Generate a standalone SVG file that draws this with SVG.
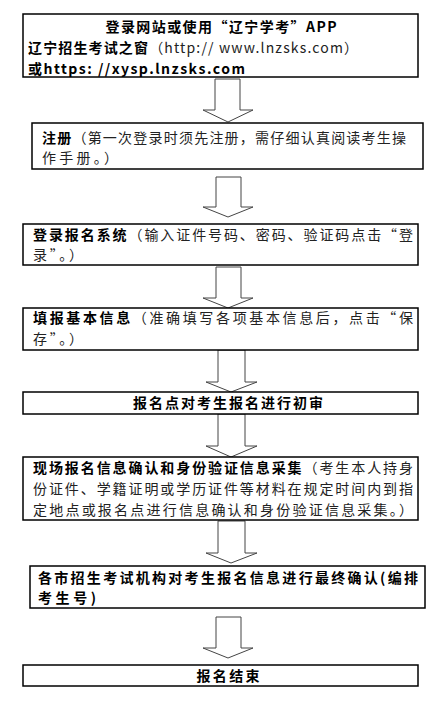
<svg xmlns="http://www.w3.org/2000/svg" width="444" height="712" viewBox="0 0 444 712">
<style>
.box{fill:#fff;stroke:#000;stroke-width:1.5}
.arr{fill:#fff;stroke:#444;stroke-width:1}
text{font-family:"Noto Sans CJK SC","Noto Sans",sans-serif;font-size:14px;fill:#000}
.b{font-weight:bold}
.n{fill:#222}
</style>
<rect width="444" height="712" fill="#fff"/>
<g id="connectors">
<polygon class="arr" points="215,79 240,79 240,110 253,110 228,122 203,110 215,110"/>
<polygon class="arr" points="216,177 241,177 241,207 253,207 228,217 203,207 216,207"/>
<polygon class="arr" points="216,267 241,267 241,298 253,298 228,308 203,298 216,298"/>
<polygon class="arr" points="218,350 245,350 245,382 257,382 231,392 206,382 218,382"/>
<polygon class="arr" points="218,414 245,414 245,446 257,446 231,457 206,446 218,446"/>
<polygon class="arr" points="218,521 245,521 245,553 257,553 231,563 206,553 218,553"/>
<polygon class="arr" points="216,617 241,617 241,648 253,648 228,658 203,648 216,648"/>
</g>
<g id="n1">
<rect class="box" x="23" y="14" width="395" height="63"/>
<text class="b" x="221" y="32" text-anchor="middle" textLength="231" lengthAdjust="spacing">登录网站或使用“辽宁学考”APP</text>
<text x="28" y="53" textLength="330" lengthAdjust="spacing"><tspan class="b">辽宁招生考试之窗</tspan><tspan class="n">（http:// www.lnzsks.com）</tspan></text>
<text class="b" x="28" y="74" textLength="217" lengthAdjust="spacing">或https: //xysp.lnzsks.com</text>
</g>
<g id="n2">
<rect class="box" x="32" y="123" width="391" height="46"/>
<text x="42" y="143" textLength="364" lengthAdjust="spacing"><tspan class="b">注册</tspan><tspan class="n">（第一次登录时须先注册，需仔细认真阅读考生操</tspan></text>
<text class="n" x="42" y="163" textLength="76" lengthAdjust="spacing">作手册。）</text>
</g>
<g id="n3">
<rect class="box" x="23" y="224" width="395" height="41"/>
<text x="33" y="240" textLength="380" lengthAdjust="spacing"><tspan class="b">登录报名系统</tspan><tspan class="n">（输入证件号码、密码、验证码点击“登</tspan></text>
<text class="n" x="33" y="260" textLength="50" lengthAdjust="spacing">录”。）</text>
</g>
<g id="n4">
<rect class="box" x="23" y="308" width="395" height="42"/>
<text x="33" y="323" textLength="380" lengthAdjust="spacing"><tspan class="b">填报基本信息</tspan><tspan class="n">（准确填写各项基本信息后，点击“保</tspan></text>
<text class="n" x="33" y="344" textLength="50" lengthAdjust="spacing">存”。）</text>
</g>
<g id="n5">
<rect class="box" x="23" y="392" width="395" height="22"/>
<text class="b" x="228" y="408" text-anchor="middle" textLength="190" lengthAdjust="spacing">报名点对考生报名进行初审</text>
</g>
<g id="n6">
<rect class="box" x="23" y="457" width="395" height="63"/>
<text x="33" y="473" textLength="380" lengthAdjust="spacing"><tspan class="b">现场报名信息确认和身份验证信息采集</tspan><tspan class="n">（考生本人持身</tspan></text>
<text class="n" x="33" y="494" textLength="380" lengthAdjust="spacing">份证件、学籍证明或学历证件等材料在规定时间内到指</text>
<text class="n" x="33" y="515" textLength="380" lengthAdjust="spacing">定地点或报名点进行信息确认和身份验证信息采集。）</text>
</g>
<g id="n7">
<rect class="box" x="30" y="566" width="395" height="42"/>
<text class="b" x="38" y="583" textLength="380" lengthAdjust="spacing">各市招生考试机构对考生报名信息进行最终确认(编排</text>
<text class="b" x="38" y="603" textLength="58" lengthAdjust="spacing">考生号)</text>
</g>
<g id="n8">
<rect class="box" x="23" y="665" width="395" height="21"/>
<text class="b" x="228" y="681" text-anchor="middle" textLength="63" lengthAdjust="spacing">报名结束</text>
</g>
</svg>
